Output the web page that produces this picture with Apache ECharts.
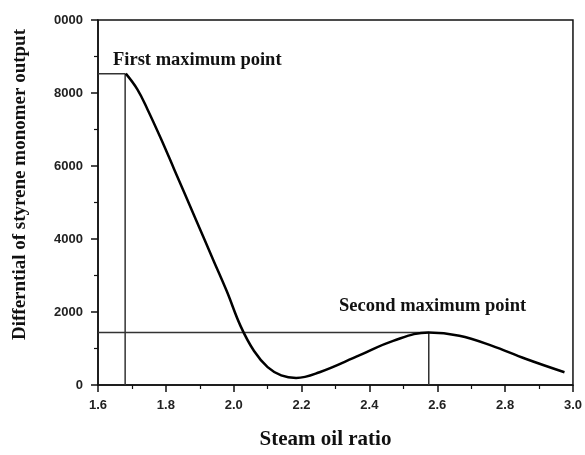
<!DOCTYPE html>
<html>
<head>
<meta charset="utf-8">
<script src="https://cdn.jsdelivr.net/npm/echarts@6/dist/echarts.min.js"></script>
<style>
  html, body { margin: 0; padding: 0; background: #fff; }
  #chart { width: 585px; height: 455px; }
</style>
</head>
<body>
<div id="chart"></div>
<script>
// curve
const ratio = [1.682, 1.716, 1.746, 1.785, 1.825, 1.889, 1.94, 1.98, 2.02, 2.06, 2.10, 2.14, 2.184, 2.253, 2.37, 2.47, 2.575, 2.665, 2.76, 2.86, 2.975];
const diffOutput = [8530, 8100, 7550, 6760, 5900, 4520, 3420, 2560, 1620, 930, 490, 265, 195, 350, 810, 1210, 1440, 1350, 1080, 720, 350];

// guide lines for the two maxima
const firstMax = [1.68, 8530];
const secondMax = [2.575, 1440];
const xMin = 1.6;

const labelFont = { color: '#222', fontFamily: 'Liberation Sans, Arial', fontWeight: 'bold', fontSize: 13 };
const serif = 'Liberation Serif, Times New Roman, serif';

const chart = echarts.init(document.getElementById('chart'));

const guide = (pts) => ({
  type: 'line',
  data: pts,
  symbol: 'none',
  silent: true,
  lineStyle: { color: '#333', width: 1.5 },
  z: 1
});

chart.setOption({
  animation: false,
  grid: {
    left: 98, right: 12, top: 20, bottom: 67,
    show: true, borderColor: '#111', borderWidth: 1.5
  },
  xAxis: {
    type: 'value',
    min: 1.6, max: 3.0, interval: 0.2,
    name: 'Steam oil ratio',
    nameLocation: 'middle',
    nameGap: 44,
    nameTextStyle: { fontFamily: serif, fontWeight: 'bold', fontSize: 21, color: '#111', padding: [0, 20, 0, 0] },
    axisLine: { lineStyle: { color: '#111', width: 1.5 } },
    axisTick: { inside: false, length: 7, lineStyle: { color: '#111', width: 1.5 } },
    minorTick: { show: true, splitNumber: 2, length: 4, lineStyle: { color: '#111', width: 1.2 } },
    axisLabel: Object.assign({ margin: 14, formatter: v => v.toFixed(1) }, labelFont),
    splitLine: { show: false }
  },
  yAxis: {
    type: 'value',
    min: 0, max: 10000, interval: 2000,
    name: 'Differntial of styrene monomer output',
    nameLocation: 'middle',
    nameRotate: 90,
    nameGap: 68,
    nameTextStyle: { fontFamily: serif, fontWeight: 'bold', fontSize: 19, color: '#111', padding: [0, 0, 0, 36] },
    axisLine: { lineStyle: { color: '#111', width: 1.5 } },
    axisTick: { inside: false, length: 7, lineStyle: { color: '#111', width: 1.5 } },
    minorTick: { show: true, splitNumber: 2, length: 4, lineStyle: { color: '#111', width: 1.2 } },
    axisLabel: Object.assign({ margin: 15, formatter: v => (v === 10000 ? '0000' : String(v)) }, labelFont),
    splitLine: { show: false }
  },
  series: [
    guide([[xMin, firstMax[1]], firstMax, [firstMax[0], 0]]),
    guide([[xMin, secondMax[1]], secondMax, [secondMax[0], 0]]),
    {
      type: 'line',
      data: ratio.map((x, i) => [x, diffOutput[i]]),
      smooth: 0.4,
      symbol: 'none',
      lineStyle: { color: '#000', width: 2.5 },
      z: 3
    }
  ],
  graphic: [
    {
      type: 'text', left: 113, top: 51,
      style: { text: 'First maximum point', font: 'bold 18.5px ' + serif, fill: '#111' }
    },
    {
      type: 'text', left: 339, top: 297,
      style: { text: 'Second maximum point', font: 'bold 18.5px ' + serif, fill: '#111' }
    }
  ]
});
</script>
</body>
</html>
